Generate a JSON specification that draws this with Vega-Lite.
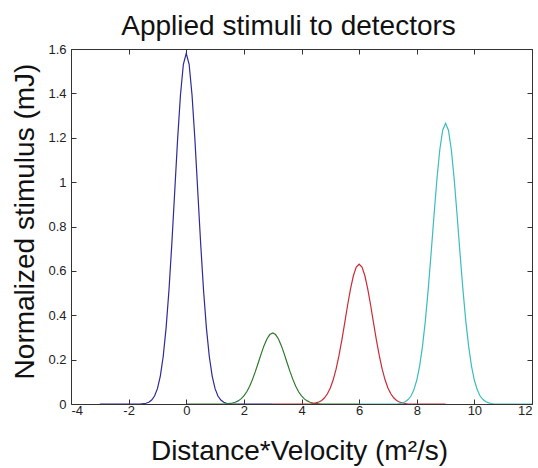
{
  "$schema": "https://vega.github.io/schema/vega-lite/v6.json",
  "width": 461,
  "height": 355,
  "autosize": {"type": "none"},
  "padding": {"left": 71, "top": 49, "right": 6, "bottom": 64},
  "background": "white",
  "title": {
    "text": "Applied stimuli to detectors",
    "font": "Liberation Sans",
    "fontSize": 28,
    "fontWeight": "normal",
    "color": "#111111",
    "baseline": "alphabetic",
    "offset": -20,
    "frame": "group",
    "dx": -13
  },
  "config": {
    "view": {"stroke": null},
    "axis": {
      "domainColor": "#333333",
      "tickColor": "#333333",
      "tickSize": -5,
      "grid": false,
      "labelFont": "Liberation Sans",
      "labelFontSize": 13,
      "labelColor": "#222222",
      "titleFont": "Liberation Sans",
      "titleFontSize": 28,
      "titleFontWeight": "normal",
      "titleColor": "#111111"
    }
  },
  "data": {
    "values": [
      {"s": "b", "x": -3, "y": 0}, {"s": "b", "x": -1.6, "y": 0}, {"s": "b", "x": -1.5, "y": 0.0014}, {"s": "b", "x": -1.4, "y": 0.0035},
      {"s": "b", "x": -1.3, "y": 0.008}, {"s": "b", "x": -1.2, "y": 0.018}, {"s": "b", "x": -1.1, "y": 0.036}, {"s": "b", "x": -1.0, "y": 0.069},
      {"s": "b", "x": -0.9, "y": 0.126}, {"s": "b", "x": -0.8, "y": 0.214}, {"s": "b", "x": -0.7, "y": 0.342}, {"s": "b", "x": -0.6, "y": 0.513},
      {"s": "b", "x": -0.5, "y": 0.723}, {"s": "b", "x": -0.4, "y": 0.958}, {"s": "b", "x": -0.3, "y": 1.193}, {"s": "b", "x": -0.2, "y": 1.394},
      {"s": "b", "x": -0.1, "y": 1.531}, {"s": "b", "x": 0, "y": 1.58}, {"s": "b", "x": 0.1, "y": 1.531}, {"s": "b", "x": 0.2, "y": 1.394},
      {"s": "b", "x": 0.3, "y": 1.193}, {"s": "b", "x": 0.4, "y": 0.958}, {"s": "b", "x": 0.5, "y": 0.723}, {"s": "b", "x": 0.6, "y": 0.513},
      {"s": "b", "x": 0.7, "y": 0.342}, {"s": "b", "x": 0.8, "y": 0.214}, {"s": "b", "x": 0.9, "y": 0.126}, {"s": "b", "x": 1.0, "y": 0.069},
      {"s": "b", "x": 1.1, "y": 0.036}, {"s": "b", "x": 1.2, "y": 0.018}, {"s": "b", "x": 1.3, "y": 0.008}, {"s": "b", "x": 1.4, "y": 0.0035},
      {"s": "b", "x": 1.5, "y": 0.0014}, {"s": "b", "x": 1.6, "y": 0}, {"s": "b", "x": 3, "y": 0},

      {"s": "g", "x": 0, "y": 0}, {"s": "g", "x": 1.3, "y": 0}, {"s": "g", "x": 1.4, "y": 0.0012}, {"s": "g", "x": 1.5, "y": 0.0024},
      {"s": "g", "x": 1.6, "y": 0.0045}, {"s": "g", "x": 1.7, "y": 0.008}, {"s": "g", "x": 1.8, "y": 0.014}, {"s": "g", "x": 1.9, "y": 0.023},
      {"s": "g", "x": 2.0, "y": 0.037}, {"s": "g", "x": 2.1, "y": 0.055}, {"s": "g", "x": 2.2, "y": 0.080}, {"s": "g", "x": 2.3, "y": 0.111},
      {"s": "g", "x": 2.4, "y": 0.147}, {"s": "g", "x": 2.5, "y": 0.186}, {"s": "g", "x": 2.6, "y": 0.226}, {"s": "g", "x": 2.7, "y": 0.263},
      {"s": "g", "x": 2.8, "y": 0.293}, {"s": "g", "x": 2.9, "y": 0.313}, {"s": "g", "x": 3.0, "y": 0.32}, {"s": "g", "x": 3.1, "y": 0.313},
      {"s": "g", "x": 3.2, "y": 0.293}, {"s": "g", "x": 3.3, "y": 0.263}, {"s": "g", "x": 3.4, "y": 0.226}, {"s": "g", "x": 3.5, "y": 0.186},
      {"s": "g", "x": 3.6, "y": 0.147}, {"s": "g", "x": 3.7, "y": 0.111}, {"s": "g", "x": 3.8, "y": 0.080}, {"s": "g", "x": 3.9, "y": 0.055},
      {"s": "g", "x": 4.0, "y": 0.037}, {"s": "g", "x": 4.1, "y": 0.023}, {"s": "g", "x": 4.2, "y": 0.014}, {"s": "g", "x": 4.3, "y": 0.008},
      {"s": "g", "x": 4.4, "y": 0.0045}, {"s": "g", "x": 4.5, "y": 0.0024}, {"s": "g", "x": 4.6, "y": 0.0012}, {"s": "g", "x": 4.7, "y": 0},
      {"s": "g", "x": 6, "y": 0},

      {"s": "r", "x": 3, "y": 0}, {"s": "r", "x": 4.3, "y": 0}, {"s": "r", "x": 4.4, "y": 0.0024}, {"s": "r", "x": 4.5, "y": 0.005},
      {"s": "r", "x": 4.6, "y": 0.009}, {"s": "r", "x": 4.7, "y": 0.016}, {"s": "r", "x": 4.8, "y": 0.028}, {"s": "r", "x": 4.9, "y": 0.046},
      {"s": "r", "x": 5.0, "y": 0.072}, {"s": "r", "x": 5.1, "y": 0.109}, {"s": "r", "x": 5.2, "y": 0.157}, {"s": "r", "x": 5.3, "y": 0.218},
      {"s": "r", "x": 5.4, "y": 0.288}, {"s": "r", "x": 5.5, "y": 0.366}, {"s": "r", "x": 5.6, "y": 0.445}, {"s": "r", "x": 5.7, "y": 0.518},
      {"s": "r", "x": 5.8, "y": 0.578}, {"s": "r", "x": 5.9, "y": 0.617}, {"s": "r", "x": 6.0, "y": 0.63}, {"s": "r", "x": 6.1, "y": 0.617},
      {"s": "r", "x": 6.2, "y": 0.578}, {"s": "r", "x": 6.3, "y": 0.518}, {"s": "r", "x": 6.4, "y": 0.445}, {"s": "r", "x": 6.5, "y": 0.366},
      {"s": "r", "x": 6.6, "y": 0.288}, {"s": "r", "x": 6.7, "y": 0.218}, {"s": "r", "x": 6.8, "y": 0.157}, {"s": "r", "x": 6.9, "y": 0.109},
      {"s": "r", "x": 7.0, "y": 0.072}, {"s": "r", "x": 7.1, "y": 0.046}, {"s": "r", "x": 7.2, "y": 0.028}, {"s": "r", "x": 7.3, "y": 0.016},
      {"s": "r", "x": 7.4, "y": 0.009}, {"s": "r", "x": 7.5, "y": 0.005}, {"s": "r", "x": 7.6, "y": 0.0024}, {"s": "r", "x": 7.7, "y": 0},
      {"s": "r", "x": 9, "y": 0},

      {"s": "c", "x": 6, "y": 0}, {"s": "c", "x": 7.3, "y": 0}, {"s": "c", "x": 7.4, "y": 0.0023}, {"s": "c", "x": 7.5, "y": 0.005},
      {"s": "c", "x": 7.6, "y": 0.010}, {"s": "c", "x": 7.7, "y": 0.020}, {"s": "c", "x": 7.8, "y": 0.036}, {"s": "c", "x": 7.9, "y": 0.064},
      {"s": "c", "x": 8.0, "y": 0.107}, {"s": "c", "x": 8.1, "y": 0.171}, {"s": "c", "x": 8.2, "y": 0.261}, {"s": "c", "x": 8.3, "y": 0.377},
      {"s": "c", "x": 8.4, "y": 0.520}, {"s": "c", "x": 8.5, "y": 0.682}, {"s": "c", "x": 8.6, "y": 0.852}, {"s": "c", "x": 8.7, "y": 1.013},
      {"s": "c", "x": 8.8, "y": 1.146}, {"s": "c", "x": 8.9, "y": 1.234}, {"s": "c", "x": 9.0, "y": 1.265}, {"s": "c", "x": 9.1, "y": 1.234},
      {"s": "c", "x": 9.2, "y": 1.146}, {"s": "c", "x": 9.3, "y": 1.013}, {"s": "c", "x": 9.4, "y": 0.852}, {"s": "c", "x": 9.5, "y": 0.682},
      {"s": "c", "x": 9.6, "y": 0.520}, {"s": "c", "x": 9.7, "y": 0.377}, {"s": "c", "x": 9.8, "y": 0.261}, {"s": "c", "x": 9.9, "y": 0.171},
      {"s": "c", "x": 10.0, "y": 0.107}, {"s": "c", "x": 10.1, "y": 0.064}, {"s": "c", "x": 10.2, "y": 0.036}, {"s": "c", "x": 10.3, "y": 0.020},
      {"s": "c", "x": 10.4, "y": 0.010}, {"s": "c", "x": 10.5, "y": 0.005}, {"s": "c", "x": 10.6, "y": 0.0023}, {"s": "c", "x": 10.7, "y": 0},
      {"s": "c", "x": 12, "y": 0}
    ]
  },
  "layer": [
    {
      "mark": {"type": "line", "strokeWidth": 1.2, "clip": true},
      "encoding": {
        "x": {
          "field": "x", "type": "quantitative",
          "scale": {"domain": [-4, 12], "nice": false, "zero": false},
          "axis": {
            "orient": "bottom",
            "values": [-4, -2, 0, 2, 4, 6, 8, 10, 12],
            "labelExpr": "datum.value + ''",
            "labelPadding": 5,
            "title": "Distance*Velocity (m²/s)",
            "titleBaseline": "alphabetic",
            "titleX": 228,
            "titleY": 55
          }
        },
        "y": {
          "field": "y", "type": "quantitative",
          "scale": {"domain": [0, 1.6], "nice": false, "zero": true},
          "axis": {
            "orient": "left",
            "values": [0, 0.2, 0.4, 0.6, 0.8, 1, 1.2, 1.4, 1.6],
            "labelExpr": "datum.value + ''",
            "labelPadding": 10,
            "title": "Normalized stimulus (mJ)",
            "titleBaseline": "alphabetic",
            "titleAngle": -90,
            "titleX": -38,
            "titleY": 172
          }
        },
        "color": {
          "field": "s", "type": "nominal",
          "scale": {"domain": ["b", "g", "r", "c"], "range": ["#2b2b9a", "#2d7a2d", "#cc2a36", "#3cbcbc"]},
          "legend": null
        }
      }
    },
    {
      "mark": {"type": "line", "strokeOpacity": 0},
      "encoding": {
        "x": {
          "field": "x", "type": "quantitative",
          "axis": {"orient": "top", "values": [-4, -2, 0, 2, 4, 6, 8, 10, 12], "labels": false, "title": null}
        },
        "y": {
          "field": "y", "type": "quantitative",
          "axis": {"orient": "right", "values": [0, 0.2, 0.4, 0.6, 0.8, 1, 1.2, 1.4, 1.6], "labels": false, "title": null}
        },
        "detail": {"field": "s"}
      }
    }
  ],
  "resolve": {"axis": {"x": "independent", "y": "independent"}}
}
